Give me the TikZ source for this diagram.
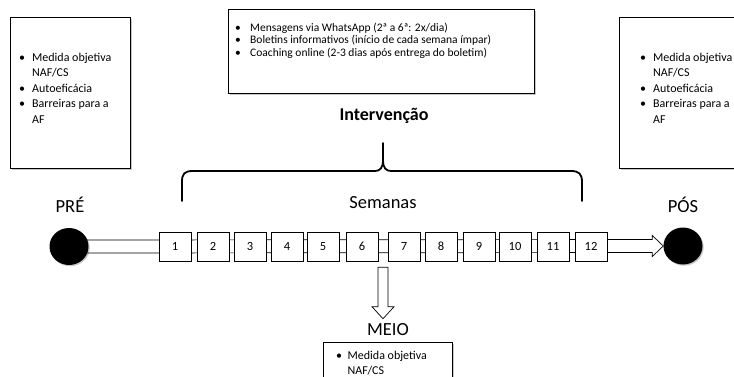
\documentclass[tikz,border=0pt]{standalone}
\usepackage{fontspec}
\setmainfont{Carlito}
\usetikzlibrary{calc,shadows,shapes.geometric}
\pgfdeclarelayer{background}
\pgfsetlayers{background,main}

\tikzset{
  softshadow/.style={drop shadow={shadow xshift=1.2pt, shadow yshift=-1.2pt, opacity=0.22, fill=black}},
  panel/.style={draw=black, line width=0.8pt, fill=white, softshadow},
  listtext/.style={anchor=base west, inner sep=0pt, align=left},
  weekbox/.style={draw=black, line width=0.6pt, fill=white, minimum width=32pt,
    minimum height=29pt, inner sep=0pt, font=\fontsize{12.5}{14}\selectfont},
  phase/.style={inner sep=0pt, font=\fontsize{18.5}{22}\selectfont},
  endpoint/.style={ellipse, fill=black, minimum width=39pt, minimum height=37pt,
    inner sep=0pt, softshadow},
  blockarrow/.style={draw=black, line width=0.7pt, fill=white, line join=miter},
  bracket/.style={draw=black, line width=1.8pt, line join=round, line cap=round},
}

% bullet list with hanging continuation lines
\newcommand{\bulletrows}[3]{%
  \fontsize{#1}{#2}\selectfont
  \begin{tabular}[t]{@{}p{#3}@{}l@{}}}
\newcommand{\bulletend}{\end{tabular}}

\begin{document}
\begin{tikzpicture}[x=1pt,y=-1pt]
\useasboundingbox (0,0) rectangle (734,376);
\clip (0,0) rectangle (734,376);

% ---- measurement panels ----
\node[panel, anchor=north west, minimum width=120pt, minimum height=151pt] (prebox) at (10,17) {};
\node[panel, anchor=north west, minimum width=130pt, minimum height=151pt] (posbox) at (619,17) {};
\node[panel, anchor=north west, minimum width=129pt, minimum height=50pt] (meiobox) at (323,342) {};
\node[panel, anchor=north west, minimum width=306pt, minimum height=84pt] (intbox) at (228,9) {};

\node[listtext] (pretxt) at (19,61) {\bulletrows{12}{15.5}{13pt}
  • & Medida objetiva\\ & NAF/CS\\ • & Autoeficácia\\ • & Barreiras para a\\ & AF\bulletend};
\node[listtext] (postxt) at (640,61) {\bulletrows{12}{15.5}{13pt}
  • & Medida objetiva\\ & NAF/CS\\ • & Autoeficácia\\ • & Barreiras para a\\ & AF\bulletend};
\node[listtext] (meiotxt) at (336,359) {\bulletrows{12}{15.5}{11.5pt}
  • & Medida objetiva\\ & NAF/CS\bulletend};
\node[listtext] (inttxt) at (235,31) {\bulletrows{11.5}{12.5}{15pt}
  • & Mensagens via WhatsApp (2ª a 6ª: 2x/dia)\\
  • & Boletins informativos (início de cada semana ímpar)\\
  • & Coaching online (2-3 dias após entrega do boletim)\bulletend};

% ---- labels ----
\node[inner sep=0pt, font=\bfseries\fontsize{18}{22}\selectfont] (intlabel) at (384,116) {Intervenção};
\node[phase] (prelabel) at (70,205) {PRÉ};
\node[phase] (poslabel) at (683,205) {PÓS};
\node[phase] (weeklabel) at (383,203) {Semanas};
\node[phase] (meiolabel) at (388,330) {MEIO};

% ---- endpoints ----
\node[endpoint] (pre) at (69,246.5) {};
\node[endpoint] (post) at (683,246) {};

% ---- timeline arrow from PRÉ to PÓS (behind the endpoints) ----
\begin{pgfonlayer}{background}
\draw[blockarrow]
  ($(pre.center)+(0,-6.5)$) -- ($(post.west)+(-11,-6.5)$) -- ($(post.west)+(-11,-10.5)$)
  -- (post.west) -- ($(post.west)+(-11,10.5)$) -- ($(post.west)+(-11,6.5)$)
  -- ($(pre.center)+(0,6.5)$) -- cycle;
\end{pgfonlayer}

% ---- weeks ----
\foreach \n/\cx in {1/175,2/213,3/250,4/287,5/323,6/362,7/404,8/441,9/479,10/515,11/553,12/591}
  \node[weekbox] (w\n) at (\cx,246.5) {\n};

% ---- mid-point arrow down to MEIO ----
\coordinate (split) at ($(w6.south east)!0.5!(w7.south west)+(0,6)$);
\coordinate (splittip) at ($(meiolabel.north)+(-5,-5)$);
\draw[blockarrow]
  ($(split)+(-5,0)$) -- ($(split)+(5,0)$) -- ($(splittip)+(5,-12)$) -- ($(splittip)+(11,-12)$)
  -- (splittip) -- ($(splittip)+(-11,-12)$) -- ($(splittip)+(-5,-12)$) -- cycle;

% ---- brace grouping the weeks ----
\coordinate (braceL) at (182,201);
\coordinate (braceR) at (582,201);
\coordinate (braceTip) at (383,143);
\draw[bracket] (braceL) -- ++(0,-19) .. controls ++(0,-8) and ++(-9,0) .. (193,171)
  -- (375,171) .. controls (380,171) and (383,168) .. (383,160) -- (braceTip)
  (383,160) .. controls (383,168) and (386,171) .. (391,171)
  -- (571,171) .. controls (579,171) and (582,174) .. (582,182) -- (braceR);
\end{tikzpicture}
\end{document}
